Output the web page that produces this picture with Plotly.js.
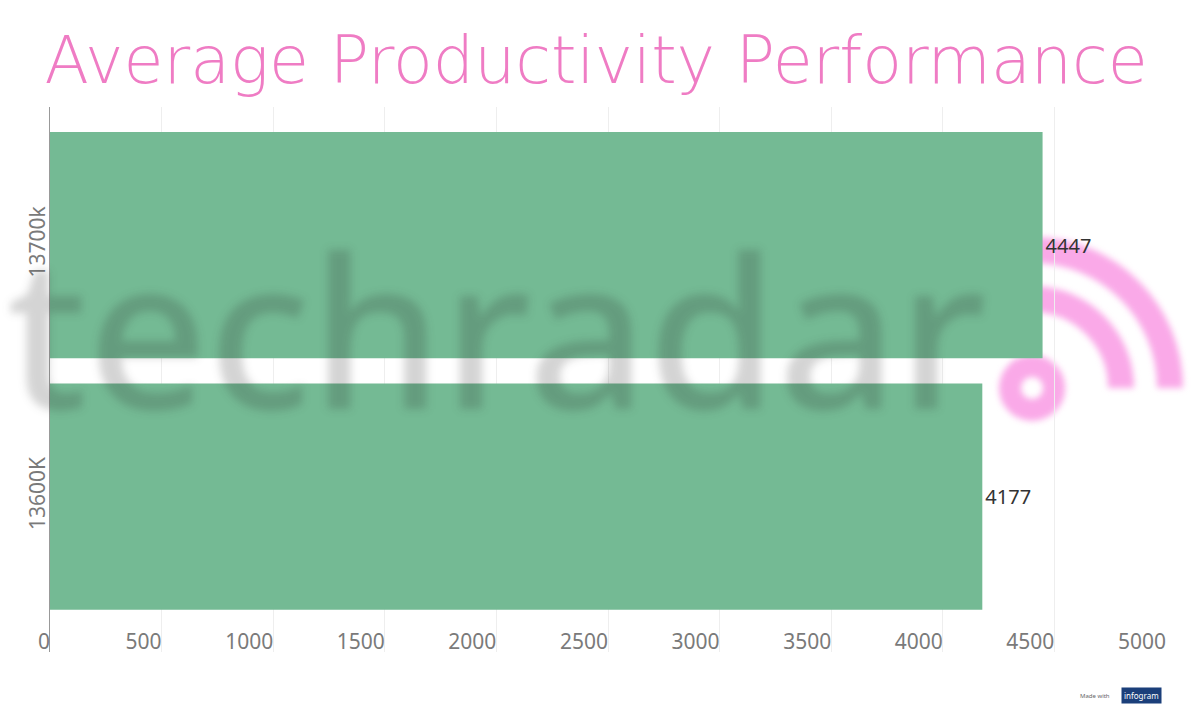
<!DOCTYPE html>
<html>
<head>
<meta charset="utf-8">
<script src="https://cdn.plot.ly/plotly-3.0.1.min.js"></script>
<style>
  html, body { margin: 0; padding: 0; background: #fff; }
  #chart { width: 1200px; height: 704px; }
  #chart .annotation[data-index="0"] { filter: blur(4px); }
  #chart .shapelayer path { filter: blur(3px); }
</style>
</head>
<body>
<div id="chart"></div>
<script>
const categories = ['13600K', '13700k'];
const values = [4177, 4447];
const valueLabels = ['4177', '4447'];
const xTicks = [0, 500, 1000, 1500, 2000, 2500, 3000, 3500, 4000, 4500, 5000];
const chartTitle = 'Average Productivity Performance';
const watermarkText = 'techradar';

const trace = {
  type: 'bar',
  orientation: 'h',
  y: categories,
  x: values,
  text: valueLabels,
  textposition: 'outside',
  cliponaxis: false,
  textfont: { family: 'Noto Sans, sans-serif', size: 20, color: '#333333' },
  marker: { color: '#74ba94' },
  hoverinfo: 'none'
};

const pink = 'rgba(250,160,230,0.9)';
const k = 0.5523;
function arcPath(r) {
  return 'M 0,' + r + ' C ' + (k * r) + ',' + r + ' ' + r + ',' + (k * r) + ' ' + r + ',0';
}
const logoX = 0.880, logoY = 0.4844;

const layout = {
  width: 1200,
  height: 704,
  margin: { l: 50, r: 34, t: 107, b: 52 },
  paper_bgcolor: '#ffffff',
  plot_bgcolor: 'rgba(0,0,0,0)',
  showlegend: false,
  bargap: 0.1,
  title: {
    text: chartTitle,
    x: 0.4967,
    xref: 'container',
    xanchor: 'center',
    y: 0.915,
    yref: 'container',
    yanchor: 'middle',
    font: { family: 'DejaVu Sans, sans-serif', size: 65, color: '#ef7cc4', weight: 200 }
  },
  xaxis: {
    range: [0, 5000],
    tickvals: xTicks,
    ticktext: xTicks.map(String),
    ticks: '',
    showgrid: true,
    gridcolor: '#eeeeee',
    gridwidth: 1,
    zeroline: false,
    showline: false,
    ticklabelposition: 'inside left',
    ticklabeloverflow: 'allow',
    ticklabelstandoff: -7,
    tickfont: { family: 'Noto Sans, sans-serif', size: 21, color: '#7a7a7a' },
    fixedrange: true
  },
  yaxis: {
    type: 'category',
    categoryorder: 'array',
    categoryarray: categories,
    range: [-0.618, 1.549],
    ticks: '',
    tickangle: -90,
    ticklabelstandoff: -4,
    showgrid: false,
    zeroline: false,
    showline: true,
    linecolor: '#999999',
    linewidth: 1,
    tickfont: { family: 'Noto Sans, sans-serif', size: 21, color: '#7a7a7a' },
    fixedrange: true
  },
  shapes: [
    {
      type: 'circle', layer: 'below',
      xref: 'paper', yref: 'paper',
      xsizemode: 'pixel', ysizemode: 'pixel',
      xanchor: logoX, yanchor: logoY,
      x0: -22, x1: 22, y0: -22, y1: 22,
      line: { color: pink, width: 22 }
    },
    {
      type: 'path', layer: 'below',
      xref: 'paper', yref: 'paper',
      xsizemode: 'pixel', ysizemode: 'pixel',
      xanchor: logoX, yanchor: logoY,
      path: arcPath(89),
      line: { color: pink, width: 26 }
    },
    {
      type: 'path', layer: 'below',
      xref: 'paper', yref: 'paper',
      xsizemode: 'pixel', ysizemode: 'pixel',
      xanchor: logoX, yanchor: logoY,
      path: arcPath(138),
      line: { color: pink, width: 26 }
    }
  ],
  annotations: [
    {
      text: watermarkText,
      xref: 'paper', yref: 'paper',
      x: -0.04, y: 0.594, xanchor: 'left', yanchor: 'middle',
      showarrow: false,
      font: { family: 'Noto Sans, sans-serif', size: 210, color: 'rgba(40,40,40,0.2)', weight: 500 }
    },
    {
      text: 'Made with',
      xref: 'paper', yref: 'paper',
      x: 1.0, y: -0.08, xanchor: 'right', yanchor: 'middle',
      xshift: -54,
      showarrow: false,
      font: { family: 'Noto Sans, sans-serif', size: 6, color: '#666666' }
    },
    {
      text: 'infogram',
      xref: 'paper', yref: 'paper',
      x: 1.0, y: -0.08, xanchor: 'right', yanchor: 'middle',
      xshift: -4,
      showarrow: false,
      bgcolor: '#1b3f7a',
      borderpad: 2,
      font: { family: 'Noto Sans, sans-serif', size: 8, color: '#ffffff' }
    }
  ]
};

Plotly.newPlot('chart', [trace], layout, { displayModeBar: false, staticPlot: true });
</script>
</body>
</html>
